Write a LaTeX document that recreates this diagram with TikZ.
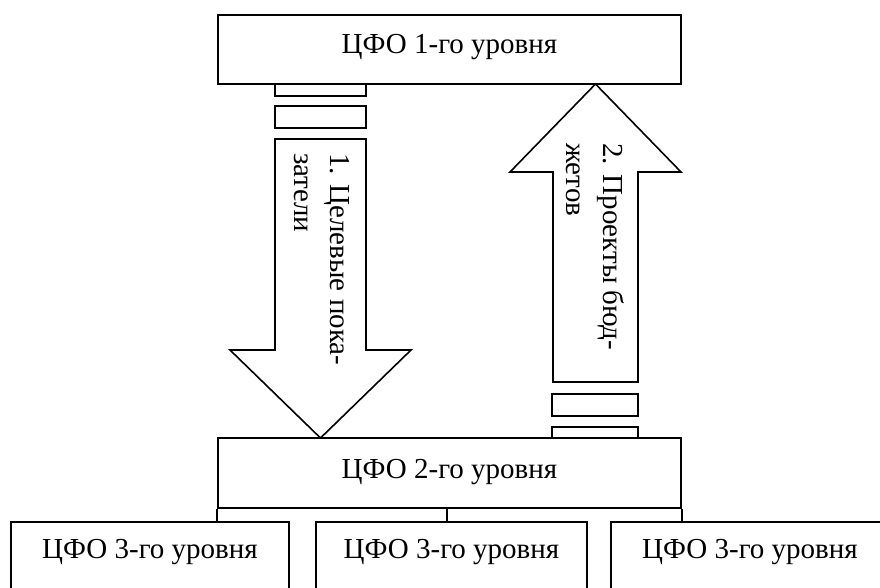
\documentclass[tikz,border=0pt]{standalone}
\usepackage{fontspec}
\setmainfont{Liberation Serif}
\begin{document}
\begin{tikzpicture}[x=1pt,y=-1pt,
  box/.style={draw=black, line width=1.6pt, rectangle, inner sep=0pt, fill=white},
  lbl/.style={font=\fontsize{29}{36}\selectfont, inner sep=0pt},
  bigarrow/.style={draw=black, line width=1.6pt, line join=miter, fill=white},
  link/.style={draw=black, line width=1.6pt}]
\useasboundingbox (0,0) rectangle (880,587);
% boxes
\node[box, minimum width=463pt, minimum height=69pt] (lvl1) at (449.5,49.5) {};
\node[box, minimum width=463pt, minimum height=70pt] (lvl2) at (449.5,473) {};
\node[box, minimum width=278pt, minimum height=88pt] (b1) at (150,566) {};
\node[box, minimum width=271pt, minimum height=88pt] (b2) at (451.5,566) {};
\node[box, minimum width=278pt, minimum height=88pt] (b3) at (750,566) {};
% small rectangles
\node[box, minimum width=91pt, minimum height=12pt] (sA) at (320.5,90) {};
\node[box, minimum width=91pt, minimum height=22pt] (sB) at (320.5,117) {};
\node[box, minimum width=86pt, minimum height=22pt] (sC) at (595,405) {};
\node[box, minimum width=86pt, minimum height=11pt] (sD) at (595,432.5) {};
% big arrows
\draw[bigarrow] (275,139) -- (366,139) -- (366,350) -- (411,350) -- (320.5,438) -- (230,350) -- (275,350) -- cycle;
\draw[bigarrow] (553,382) -- (553,172) -- (510,172) -- (595.5,84) -- (681,172) -- (638,172) -- (638,382) -- cycle;
% texts
\node[lbl, anchor=base] (t1) at (449.5,53) {ЦФО 1-го уровня};
\node[lbl, anchor=base] (t2) at (449.5,478) {ЦФО 2-го уровня};
\node[lbl, anchor=base] (t31) at (150,558) {ЦФО 3-го уровня};
\node[lbl, anchor=base] (t32) at (451.5,558) {ЦФО 3-го уровня};
\node[lbl, anchor=base] (t33) at (750,558) {ЦФО 3-го уровня};
\node[lbl, rotate=-90, anchor=base west] (da) at (330,153) {1. Целевые пока-};
\node[lbl, rotate=-90, anchor=base west] (db) at (294,153) {затели};
\node[lbl, rotate=-90, anchor=base west] (ua) at (603,143) {2. Проекты бюд-};
\node[lbl, rotate=-90, anchor=base west] (ub) at (566,143) {жетов};
% connectors
\coordinate (mx) at (447,0);
\draw[link] (lvl2.south west) -- (b1.north -| lvl2.south west);
\draw[link] (lvl2.south -| mx) -- (b2.north -| mx);
\draw[link] (lvl2.south east) -- (b3.north -| lvl2.south east);
\end{tikzpicture}
\end{document}
